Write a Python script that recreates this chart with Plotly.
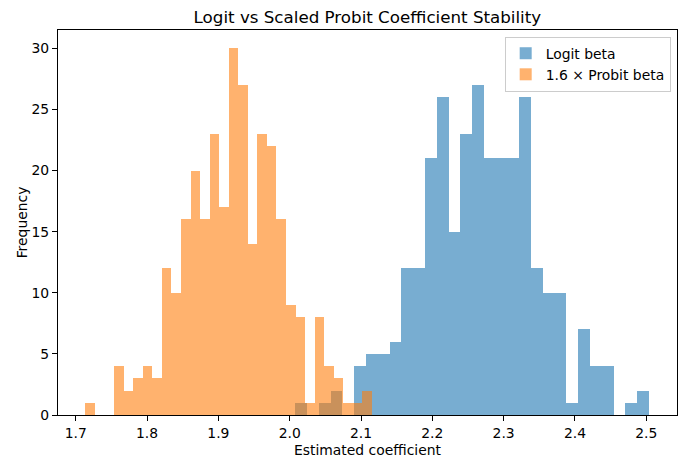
import numpy as np
import plotly.graph_objects as go

# histogram counts (30 bins each)
logit_counts = [1, 0, 1, 2, 0, 4, 5, 5, 6, 12, 12, 21, 26, 15, 23,
                27, 21, 21, 21, 26, 12, 10, 10, 1, 7, 4, 4, 0, 1, 2]
logit_range = [2.0079, 2.5037]

probit_counts = [1, 0, 0, 4, 2, 3, 4, 3, 12, 10, 16, 20, 16, 23, 17,
                 30, 27, 14, 23, 22, 16, 9, 8, 1, 8, 4, 3, 1, 1, 2]
probit_range = [1.7136, 2.1154]

x_ticks = [1.7, 1.8, 1.9, 2.0, 2.1, 2.2, 2.3, 2.4, 2.5]
y_ticks = [0, 5, 10, 15, 20, 25, 30]

FONT = "DejaVu Sans"
# the page body has an 8px margin, so the figure is 8px smaller each way
W, H = 679, 460


def bins(rng, counts):
    edges = np.linspace(rng[0], rng[1], len(counts) + 1)
    return (edges[:-1] + edges[1:]) / 2, edges[1] - edges[0]


fig = go.Figure()
for name, rng, counts, color in [
    ("Logit beta", logit_range, logit_counts, "#1f77b4"),
    ("1.6 × Probit beta", probit_range, probit_counts, "#ff7f0e"),
]:
    centers, w = bins(rng, counts)
    fig.add_trace(go.Bar(
        x=centers, y=counts, width=w, name=name,
        marker={"color": color, "line": {"width": 0}},
        opacity=0.6,
    ))

axis_common = dict(
    showgrid=False, zeroline=False, automargin=False,
    showline=True, linecolor="black", linewidth=1.1, mirror=True,
    ticks="outside", ticklen=5, tickwidth=1.1, tickcolor="black",
    tickfont={"size": 13.9, "color": "black", "family": FONT},
)

fig.update_layout(
    width=W, height=H,
    barmode="overlay", bargap=0,
    paper_bgcolor="white", plot_bgcolor="white",
    font={"family": FONT, "color": "black", "size": 13.9},
    margin={"l": 49.5, "r": 9.7, "t": 22.3, "b": 53},
    title={"text": "Logit vs Scaled Probit Coefficient Stability",
           "font": {"size": 16.7, "family": FONT, "color": "black"},
           "x": (49.5 + 669.3) / 2 / W, "xanchor": "center",
           "y": 1 - 9.5 / H, "yanchor": "middle", "yref": "container"},
    xaxis=dict(axis_common, range=[1.6751, 2.5431], tickvals=x_ticks,
               tickformat=".1f",
               title={"text": "Estimated coefficient", "standoff": 5,
                      "font": {"size": 13.9, "family": FONT}}),
    yaxis=dict(axis_common, range=[0, 31.5], tickvals=y_ticks,
               title={"text": "Frequency", "standoff": 0,
                      "font": {"size": 13.9, "family": FONT}}),
    legend={"x": 0.9898, "xanchor": "right", "y": 0.9826, "yanchor": "top",
            "bgcolor": "rgba(255,255,255,0.8)", "bordercolor": "#cccccc",
            "borderwidth": 1, "font": {"size": 13.9, "family": FONT}},
    showlegend=True,
)

fig.write_html("out.html")
